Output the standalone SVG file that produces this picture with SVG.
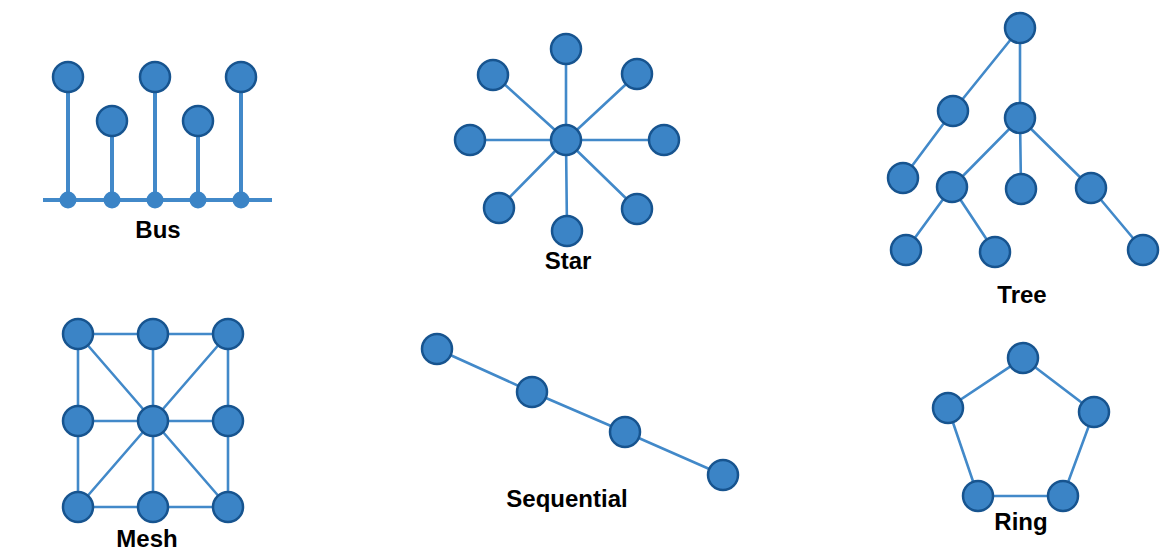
<svg xmlns="http://www.w3.org/2000/svg" width="1169" height="550" viewBox="0 0 1169 550">
<style>
.n{fill:#3b84c6;stroke:#17548f;stroke-width:2.5}
.e{stroke:#4289c9;stroke-width:2.6;fill:none;stroke-linecap:round}
.b{stroke:#4289c9;stroke-width:4;fill:none}
.d{fill:#3b84c6}
.t{font-family:"Liberation Sans",Arial,sans-serif;font-weight:bold;font-size:24px;fill:#000;text-anchor:middle}
</style>
<rect width="1169" height="550" fill="#fff"/>
<g id="connectors">
  <path class="b" d="M43 200H272M68 77V200M112 121V200M155 77V200M198 121V200M241 77V200"/>
  <path class="e" d="M566 140L566 50M566 140L493 74M566 140L637 74M566 140L470 140M566 140L664 140M566 140L499 208M566 140L567 231M566 140L637 209"/>
  <path class="e" d="M1020 28L953 111M1020 28L1020 118M953 111L903 178M1020 118L952 187M1020 118L1021 189M1020 118L1091 188M952 187L906 250M952 187L995 252M1091 188L1143 250"/>
  <path class="e" d="M78 334H228M78 421H228M78 507H228M78 334V507M153 334V507M228 334V507M78 334L228 507M228 334L78 507"/>
  <path class="e" d="M437 349L532 392L625 432L723 475"/>
  <path class="e" d="M1023 358L1094 412L1063 496L978 496L948 408Z"/>
</g>
<g id="bus">
  <circle class="d" cx="68" cy="200" r="8.5"/>
  <circle class="d" cx="112" cy="200" r="8.5"/>
  <circle class="d" cx="155" cy="200" r="8.5"/>
  <circle class="d" cx="198" cy="200" r="8.5"/>
  <circle class="d" cx="241" cy="200" r="8.5"/>
  <circle class="n" cx="68" cy="77" r="15"/>
  <circle class="n" cx="112" cy="121" r="15"/>
  <circle class="n" cx="155" cy="77" r="15"/>
  <circle class="n" cx="198" cy="121" r="15"/>
  <circle class="n" cx="241" cy="77" r="15"/>
  <text class="t" x="158" y="238">Bus</text>
</g>
<g id="star">
  <circle class="n" cx="566" cy="49" r="15"/>
  <circle class="n" cx="493" cy="75" r="15"/>
  <circle class="n" cx="637" cy="74" r="15"/>
  <circle class="n" cx="470" cy="140" r="15"/>
  <circle class="n" cx="664" cy="140" r="15"/>
  <circle class="n" cx="566" cy="140" r="15"/>
  <circle class="n" cx="499" cy="208" r="15"/>
  <circle class="n" cx="567" cy="231" r="15"/>
  <circle class="n" cx="637" cy="209" r="15"/>
  <text class="t" x="568" y="269">Star</text>
</g>
<g id="tree">
  <circle class="n" cx="1020" cy="28" r="15"/>
  <circle class="n" cx="953" cy="111" r="15"/>
  <circle class="n" cx="1020" cy="118" r="15"/>
  <circle class="n" cx="903" cy="178" r="15"/>
  <circle class="n" cx="952" cy="187" r="15"/>
  <circle class="n" cx="1021" cy="189" r="15"/>
  <circle class="n" cx="1091" cy="188" r="15"/>
  <circle class="n" cx="906" cy="250" r="15"/>
  <circle class="n" cx="995" cy="252" r="15"/>
  <circle class="n" cx="1143" cy="250" r="15"/>
  <text class="t" x="1022" y="303">Tree</text>
</g>
<g id="mesh">
  <circle class="n" cx="78" cy="334" r="15"/>
  <circle class="n" cx="153" cy="334" r="15"/>
  <circle class="n" cx="228" cy="334" r="15"/>
  <circle class="n" cx="78" cy="421" r="15"/>
  <circle class="n" cx="153" cy="421" r="15"/>
  <circle class="n" cx="228" cy="421" r="15"/>
  <circle class="n" cx="78" cy="507" r="15"/>
  <circle class="n" cx="153" cy="507" r="15"/>
  <circle class="n" cx="228" cy="507" r="15"/>
  <text class="t" x="147" y="547">Mesh</text>
</g>
<g id="sequential">
  <circle class="n" cx="437" cy="349" r="15"/>
  <circle class="n" cx="532" cy="392" r="15"/>
  <circle class="n" cx="625" cy="432" r="15"/>
  <circle class="n" cx="723" cy="475" r="15"/>
  <text class="t" x="567" y="507">Sequential</text>
</g>
<g id="ring">
  <circle class="n" cx="1023" cy="358" r="15"/>
  <circle class="n" cx="948" cy="408" r="15"/>
  <circle class="n" cx="1094" cy="412" r="15"/>
  <circle class="n" cx="978" cy="496" r="15"/>
  <circle class="n" cx="1063" cy="496" r="15"/>
  <text class="t" x="1021" y="530">Ring</text>
</g>
</svg>
